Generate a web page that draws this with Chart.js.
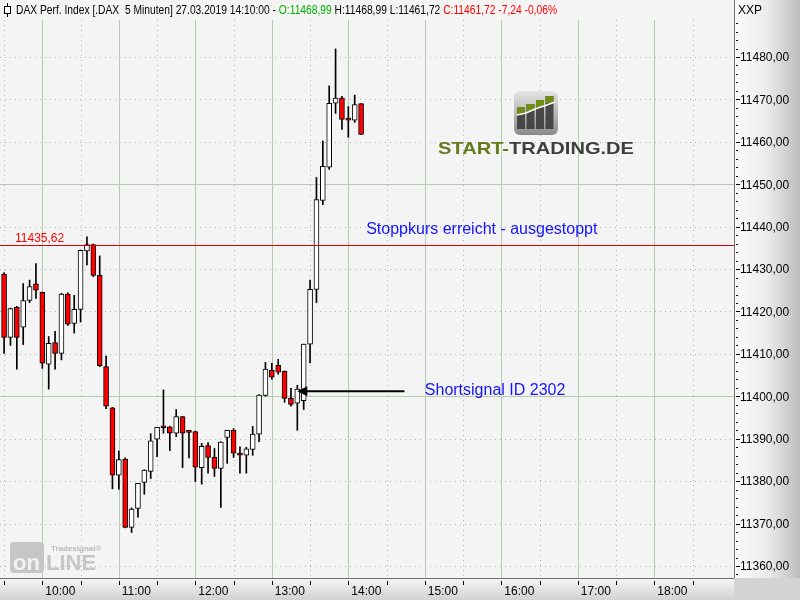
<!DOCTYPE html>
<html>
<head>
<meta charset="utf-8">
<script src="https://cdn.jsdelivr.net/npm/chart.js@4.4.0/dist/chart.umd.min.js"></script>
<style>
  html, body { margin: 0; padding: 0; background: #f4f4f4; }
  #wrap { width: 800px; height: 600px; }
</style>
</head>
<body>
<div id="wrap"><canvas id="chart" width="800" height="600"></canvas></div>
<script>
//------------------------------------- Daten (DAX 5 Minuten, 27.03.2019) -------------------------------------
const times = ['09:30','09:35','09:40','09:45','09:50','09:55','10:00','10:05','10:10','10:15','10:20','10:25',
  '10:30','10:35','10:40','10:45','10:50','10:55','11:00','11:05','11:10','11:15','11:20','11:25',
  '11:30','11:35','11:40','11:45','11:50','11:55','12:00','12:05','12:10','12:15','12:20','12:25',
  '12:30','12:35','12:40','12:45','12:50','12:55','13:00','13:05','13:10','13:15','13:20','13:25',
  '13:30','13:35','13:40','13:45','13:50','13:55','14:00','14:05','14:10'];
const opens = [11428.8,11413.9,11421.0,11416.3,11422.6,11426.5,11424.5,11407.6,11412.7,11410.1,11424.1,11417.2,
  11420.5,11434.3,11435.8,11428.5,11407.0,11397.3,11381.4,11385.2,11369.1,11373.6,11379.7,11382.3,
  11389.9,11392.8,11392.8,11391.3,11395.2,11391.7,11391.7,11383.2,11388.4,11385.6,11383.0,11390.3,
  11392.0,11386.6,11386.1,11387.5,11391.1,11400.2,11406.1,11407.3,11405.9,11399.5,11398.4,11399.0,
  11412.3,11425.2,11446.2,11454.0,11469.1,11470.3,11465.5,11465.1,11468.99];
const highs = [11429.2,11420.8,11421.2,11426.6,11427.4,11431.3,11424.6,11414.1,11415.3,11424.3,11424.4,11423.8,
  11434.5,11437.6,11435.9,11433.1,11409.5,11397.4,11387.1,11385.5,11373.7,11379.5,11382.7,11391.2,
  11392.7,11401.5,11392.9,11396.9,11395.3,11391.8,11391.8,11388.9,11389.1,11387.7,11389.3,11392.0,
  11392.4,11388.1,11388.0,11392.9,11400.4,11408.0,11407.8,11408.7,11406.0,11401.9,11402.6,11412.3,
  11427.4,11451.6,11460.2,11473.2,11481.9,11470.7,11468.3,11471.0,11468.99];
const lows = [11410.1,11412.0,11406.4,11412.2,11422.1,11423.1,11406.6,11401.7,11406.4,11408.6,11416.7,11414.9,
  11417.5,11431.0,11428.2,11407.0,11397.1,11378.2,11378.1,11369.0,11367.9,11371.5,11376.9,11380.6,
  11385.8,11391.3,11387.2,11390.5,11383.2,11385.5,11379.9,11379.3,11381.9,11381.1,11373.8,11384.2,
  11385.6,11381.9,11381.9,11386.1,11389.3,11400.0,11404.0,11405.2,11398.6,11397.7,11392.0,11396.9,
  11407.9,11422.1,11445.2,11453.5,11466.7,11462.9,11461.1,11464.6,11461.72];
const closes = [11413.9,11420.7,11413.9,11422.6,11425.9,11425.0,11407.8,11412.5,11410.1,11424.1,11417.0,11420.5,
  11434.4,11435.8,11428.5,11407.2,11397.7,11381.4,11385.1,11369.1,11373.4,11379.5,11382.6,11389.5,
  11392.7,11392.6,11391.3,11395.2,11391.3,11391.5,11383.3,11388.2,11385.6,11383.0,11389.2,11392.0,
  11386.6,11386.1,11387.6,11391.1,11400.3,11406.4,11404.5,11405.7,11399.5,11398.1,11401.7,11412.3,
  11425.2,11446.4,11454.2,11469.1,11470.3,11465.3,11465.1,11468.8,11461.72];

const priceTicks = [11360,11370,11380,11390,11400,11410,11420,11430,11440,11450,11460,11470,11480];
const solidPriceLines = [11400, 11450];
const hourTicks = ['10:00','11:00','12:00','13:00','14:00','15:00','16:00','17:00','18:00'];
const halfHourTicks = ['09:30','10:30','11:30','12:30','13:30','14:30','15:30','16:30','17:30','18:30'];

const stopLevel = 11435.62;
const stopLabel = '11435,62';
const stopText = { time: '14:14', price: 11439.2, text: 'Stoppkurs erreicht - ausgestoppt' };
const signalArrow = { fromTime: '14:44', toTime: '13:20', price: 11401.2 };
const signalText = { time: '15:00', price: 11401.4, text: 'Shortsignal ID 2302' };

const headerParts = [
  ['DAX Perf. Index [.DAX  5 Minuten] 27.03.2019 14:10:00 - ', '#000000'],
  ['O:11468,99', '#00b000'],
  [' H:11468,99 L:11461,72 ', '#000000'],
  ['C:11461,72 -7,24 -0,06%', '#ff0000']
];

function toMin(t) {
  const p = t.split(':');
  return parseInt(p[0]) * 60 + parseInt(p[1]);
}
function fmtPrice(v) {
  return v.toFixed(2).replace('.', ',');
}

//------------------------------------- Dekoration: Hintergrund, Gitter, Achsen, Texte -------------------------------------
const chartDecor = {
  id: 'chartDecor',
  beforeDraw(chart) {
    const c = chart.ctx;
    const a = chart.chartArea;
    const xs = chart.scales.x;
    const ys = chart.scales.y;
    c.save();
    c.fillStyle = '#f4f4f4';
    c.fillRect(0, 0, 800, 600);

    // rechte Preisachse
    let g = c.createLinearGradient(a.right, 0, 800, 0);
    g.addColorStop(0, '#fbfbfb');
    g.addColorStop(0.5, '#ececec');
    g.addColorStop(1, '#bdbdbd');
    c.fillStyle = g;
    c.fillRect(a.right, 0, 800 - a.right, a.bottom);

    // untere Zeitachse
    g = c.createLinearGradient(0, a.bottom, 0, 600);
    g.addColorStop(0, '#f6f6f6');
    g.addColorStop(1, '#d2d2d2');
    c.fillStyle = g;
    c.fillRect(0, a.bottom, a.right, 600 - a.bottom);
    c.fillStyle = '#d4d4d4';
    c.fillRect(a.right, a.bottom, 800 - a.right, 600 - a.bottom);

    // Gitter horizontal
    c.lineWidth = 1;
    priceTicks.forEach(v => {
      const y = Math.round(ys.getPixelForValue(v)) + 0.5;
      c.beginPath();
      if (solidPriceLines.includes(v)) {
        c.setLineDash([]);
        c.strokeStyle = '#b4ccb0';
      } else {
        c.setLineDash([1, 4]);
        c.strokeStyle = '#a8b8a8';
      }
      c.moveTo(a.left, y);
      c.lineTo(a.right, y);
      c.stroke();
    });
    // Gitter vertikal
    hourTicks.forEach(t => {
      const x = Math.round(xs.getPixelForValue(toMin(t))) + 0.5;
      c.setLineDash([]);
      c.strokeStyle = '#b4ccb0';
      c.beginPath();
      c.moveTo(x, a.top);
      c.lineTo(x, a.bottom);
      c.stroke();
    });
    halfHourTicks.forEach(t => {
      const x = Math.round(xs.getPixelForValue(toMin(t))) + 0.5;
      c.setLineDash([1, 4]);
      c.strokeStyle = '#a8b8a8';
      c.beginPath();
      c.moveTo(x, a.top);
      c.lineTo(x, a.bottom);
      c.stroke();
    });
    c.setLineDash([]);

    // Logo START-TRADING.DE
    const ix = 514, iy = 91;
    g = c.createLinearGradient(0, iy, 0, iy + 44);
    g.addColorStop(0, '#e4e4e4');
    g.addColorStop(1, '#8c8c8c');
    c.fillStyle = g;
    c.beginPath();
    c.roundRect(ix, iy, 44, 44, 6);
    c.fill();
    const barTops = [16, 13, 9, 5];
    barTops.forEach((t, i) => {
      const bx = ix + 3 + i * 9.5;
      c.fillStyle = '#474747';
      c.fillRect(bx, iy + t, 8, 38 - t);
      c.fillStyle = '#6f8c14';
      c.fillRect(bx, iy + t, 8, 7);
    });
    c.strokeStyle = '#ffffff';
    c.lineWidth = 1.5;
    c.beginPath();
    c.moveTo(ix + 3, iy + 24);
    c.lineTo(ix + 12, iy + 22);
    c.lineTo(ix + 21, iy + 18);
    c.lineTo(ix + 30, iy + 15);
    c.lineTo(ix + 41, iy + 11);
    c.stroke();

    c.font = 'bold 17px "Liberation Sans", Arial, sans-serif';
    c.textBaseline = 'alphabetic';
    const w1 = c.measureText('START-').width;
    const wAll = c.measureText('START-TRADING.DE').width;
    const sx = 196 / wAll;
    c.save();
    c.translate(438, 154);
    c.scale(sx, 1);
    c.fillStyle = '#667a1c';
    c.fillText('START-', 0, 0);
    c.fillStyle = '#3e3e3e';
    c.fillText('TRADING.DE', w1, 0);
    c.restore();

    // Tradesignal online
    c.fillStyle = '#c6c6c6';
    c.beginPath();
    c.roundRect(10, 542, 34, 31, 4);
    c.fill();
    c.font = 'bold 22px "Liberation Sans", Arial, sans-serif';
    c.fillStyle = '#f2f2f2';
    c.fillText('on', 13, 570);
    c.fillStyle = '#c6c6c6';
    c.fillText('LINE', 46, 570);
    c.font = 'bold 8px "Liberation Sans", Arial, sans-serif';
    c.fillStyle = '#b8b8b8';
    c.fillText('Tradesignal®', 51, 551);
    c.restore();
  },
  afterDatasetsDraw(chart) {
    const c = chart.ctx;
    const a = chart.chartArea;
    const xs = chart.scales.x;
    const ys = chart.scales.y;
    c.save();

    // Stopp-Linie
    const sy = Math.round(ys.getPixelForValue(stopLevel)) + 0.5;
    c.strokeStyle = '#e00000';
    c.lineWidth = 1;
    c.beginPath();
    c.moveTo(a.left, sy);
    c.lineTo(a.right, sy);
    c.stroke();
    c.font = '12px "Liberation Sans", Arial, sans-serif';
    c.fillStyle = '#ff0000';
    c.textBaseline = 'bottom';
    c.textAlign = 'left';
    c.fillText(stopLabel, 15, sy - 1);

    // Annotationen
    c.font = '16px "Liberation Sans", Arial, sans-serif';
    c.fillStyle = '#1414ff';
    c.textBaseline = 'middle';
    c.fillText(stopText.text, xs.getPixelForValue(toMin(stopText.time)), ys.getPixelForValue(stopText.price));
    c.fillText(signalText.text, xs.getPixelForValue(toMin(signalText.time)), ys.getPixelForValue(signalText.price));

    // Pfeil
    const ax0 = xs.getPixelForValue(toMin(signalArrow.fromTime));
    const ax1 = xs.getPixelForValue(toMin(signalArrow.toTime));
    const ay = ys.getPixelForValue(signalArrow.price);
    c.strokeStyle = '#000000';
    c.lineWidth = 2;
    c.beginPath();
    c.moveTo(ax0, ay);
    c.lineTo(ax1 + 8, ay);
    c.stroke();
    c.fillStyle = '#000000';
    c.beginPath();
    c.moveTo(ax1, ay);
    c.lineTo(ax1 + 10, ay - 5);
    c.lineTo(ax1 + 10, ay + 5);
    c.closePath();
    c.fill();
    c.restore();
  },
  afterDraw(chart) {
    const c = chart.ctx;
    const a = chart.chartArea;
    const xs = chart.scales.x;
    const ys = chart.scales.y;
    c.save();
    c.lineWidth = 1;
    c.strokeStyle = '#6e6e6e';

    // Achsenlinien
    c.beginPath();
    c.moveTo(a.right + 0.5, 0);
    c.lineTo(a.right + 0.5, a.bottom);
    c.moveTo(0, a.bottom + 0.5);
    c.lineTo(a.right, a.bottom + 0.5);
    c.stroke();

    // Preisachse: Ticks + Beschriftung
    c.strokeStyle = '#000000';
    c.beginPath();
    for (let v = 11358; v <= 11488; v += 2) {
      const y = Math.round(ys.getPixelForValue(v)) + 0.5;
      const len = (v % 10 === 0) ? 4 : 2;
      c.moveTo(a.right + 2, y);
      c.lineTo(a.right + 2 + len, y);
    }
    c.stroke();
    c.font = '12px "Liberation Sans", Arial, sans-serif';
    c.fillStyle = '#000000';
    c.textAlign = 'left';
    c.textBaseline = 'middle';
    priceTicks.forEach(v => {
      c.fillText(fmtPrice(v), a.right + 6, ys.getPixelForValue(v) + 1);
    });
    c.fillText('XXP', a.right + 4, 11);

    // Zeitachse
    c.beginPath();
    hourTicks.concat(halfHourTicks).forEach(t => {
      const x = Math.round(xs.getPixelForValue(toMin(t))) + 0.5;
      c.moveTo(x, a.bottom + 3);
      c.lineTo(x, a.bottom + 7);
    });
    c.stroke();
    hourTicks.forEach(t => {
      c.fillText(t, xs.getPixelForValue(toMin(t)) + 3, a.bottom + 14);
    });

    // Kopfzeile (leicht schmaler gesetzt)
    c.strokeStyle = '#000000';
    c.beginPath();
    c.moveTo(7.5, 3);
    c.lineTo(7.5, 17);
    c.stroke();
    c.fillStyle = '#ffffff';
    c.fillRect(4.5, 6.5, 6, 7);
    c.strokeRect(4.5, 6.5, 6, 7);
    const fullHeader = headerParts.map(p => p[0]).join('');
    const hsx = 541 / c.measureText(fullHeader).width;
    c.save();
    c.translate(16, 11);
    c.scale(hsx, 1);
    let hx = 0;
    headerParts.forEach(p => {
      c.fillStyle = p[1];
      c.fillText(p[0], hx, 0);
      hx += c.measureText(p[0]).width;
    });
    c.restore();
    c.restore();
  }
};

//------------------------------------- Kerzen als schwebende Balken -------------------------------------
const bodyData = times.map((t, i) => ({ x: toMin(t), y: [opens[i], closes[i]] }));
const wickData = times.map((t, i) => ({ x: toMin(t), y: [lows[i], highs[i]] }));
const bodyColors = closes.map((cl, i) => cl >= opens[i] ? '#ffffff' : '#ff0000');

new Chart(document.getElementById('chart').getContext('2d'), {
  type: 'bar',
  data: {
    datasets: [
      {
        label: 'Kerzenkörper',
        data: bodyData,
        backgroundColor: bodyColors,
        borderColor: '#000000',
        borderWidth: 1,
        borderSkipped: false,
        barThickness: 5,
        minBarLength: 2,
        grouped: false
      },
      {
        label: 'Docht',
        data: wickData,
        backgroundColor: '#000000',
        borderWidth: 0,
        barThickness: 1,
        grouped: false
      }
    ]
  },
  options: {
    responsive: false,
    animation: false,
    devicePixelRatio: 1,
    layout: { padding: { left: 0, top: 20, right: 66, bottom: 22 } },
    plugins: { legend: { display: false }, tooltip: { enabled: false } },
    scales: {
      x: { type: 'linear', display: false, offset: false, min: 566.8, max: 1142.5 },
      y: { display: false, min: 11357.17, max: 11488.72 }
    }
  },
  plugins: [chartDecor]
});
</script>
</body>
</html>
